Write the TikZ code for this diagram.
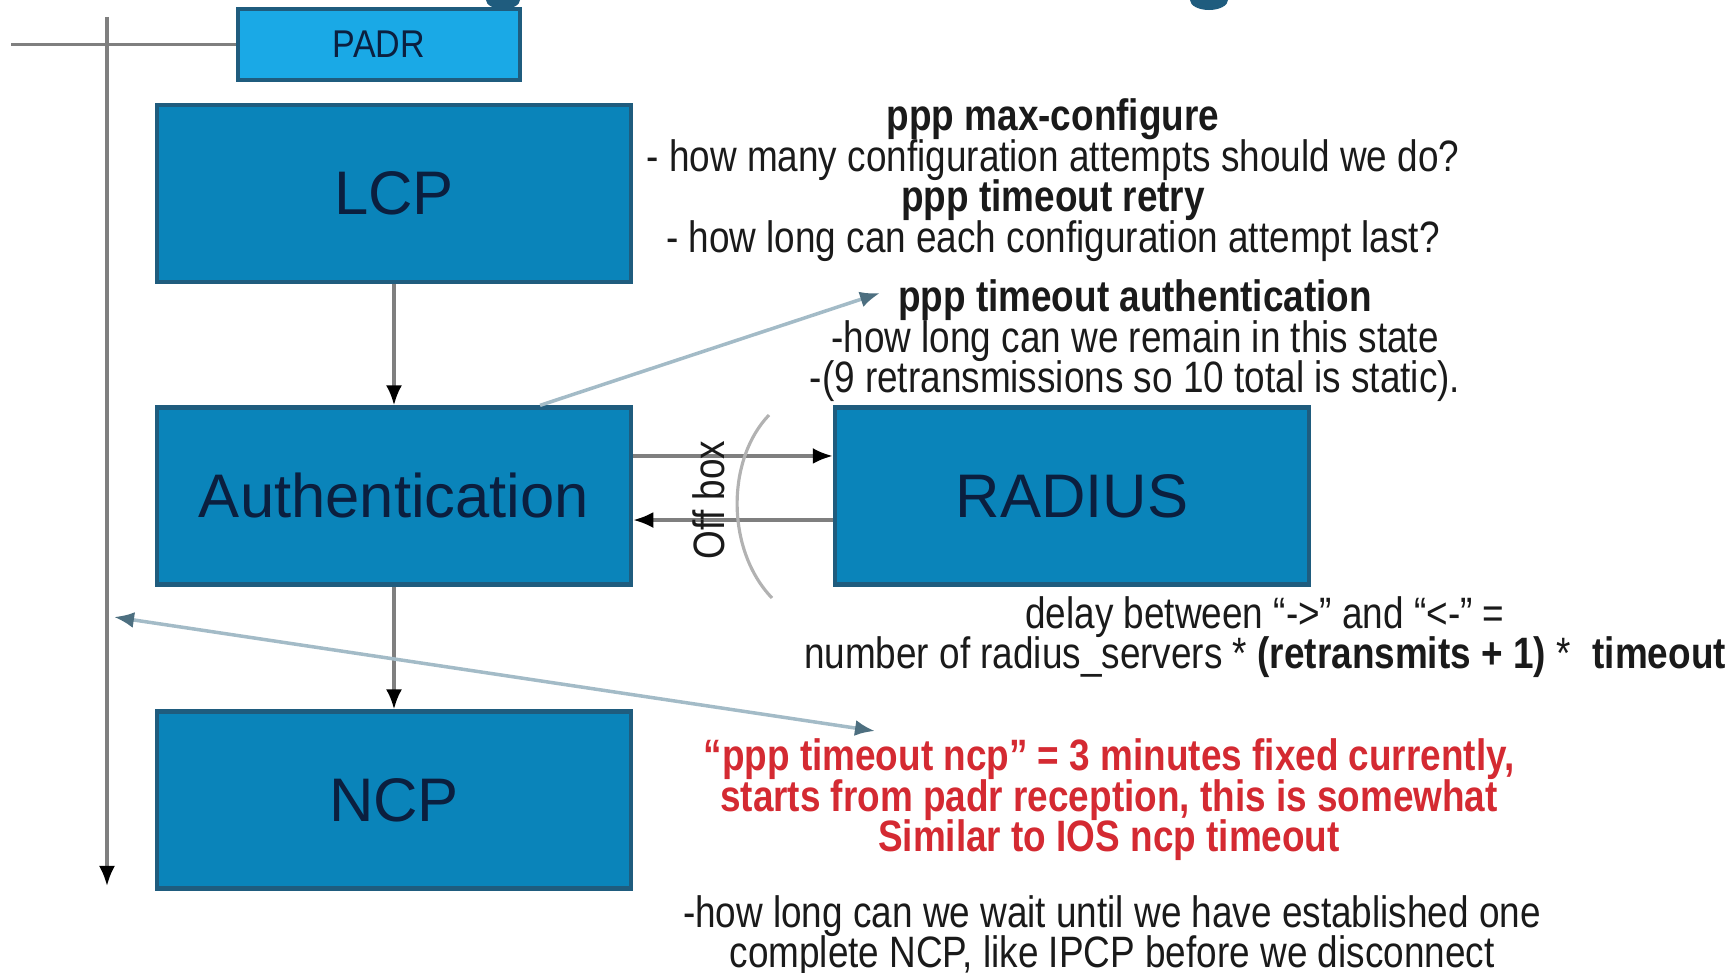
\documentclass[tikz,border=0pt]{standalone}
\usepackage{fontspec}
\setmainfont{Liberation Sans}
\newfontfamily\narrowfont[FakeStretch=0.84]{Liberation Sans}
\newfontfamily\padrfont[FakeStretch=0.88]{Liberation Sans}
\usepackage{xcolor}
\usepackage{tikz}
\usetikzlibrary{arrows.meta}

\definecolor{boxblue}{HTML}{0A84BA}
\definecolor{boxedge}{HTML}{1F5C7E}
\definecolor{padrblue}{HTML}{1AA9E6}
\definecolor{labelblue}{HTML}{0B1F3F}
\definecolor{notegray}{HTML}{1A1A1A}
\definecolor{flowgray}{HTML}{7F7F7F}
\definecolor{hintblue}{HTML}{A3BBC7}
\definecolor{hinthead}{HTML}{4D6F80}
\definecolor{noteRed}{HTML}{D42A32}

\newcommand{\tightlines}{\lineskiplimit=-\maxdimen\lineskip=0pt}

\tikzset{
	stage/.style={draw=boxedge, line width=1.2pt, fill=boxblue, text=labelblue,
		minimum width=4.74cm, minimum height=1.77cm,
		font=\fontsize{17.5pt}{20pt}\selectfont},
	note/.style={align=center, inner sep=0pt, text=notegray,
		font=\narrowfont\fontsize{12.5pt}{11.5pt}\selectfont\tightlines},
	flow/.style={draw=flowgray, line width=0.9pt},
	hint/.style={draw=hintblue, line width=1pt},
	tip/.style={-{Latex[length=2mm,width=1.6mm,black]}},
}

\begin{document}
\begin{tikzpicture}[x=0.01cm,y=-0.01cm]
	\useasboundingbox (0,0) rectangle (1736,973);
	% cut-off marks at the top edge
	\fill[boxedge] (503,0) ellipse (1.7mm and 0.9mm);
	\fill[boxedge] (1209,0) ellipse (1.9mm and 1mm);
	%
	\node[stage, fill=padrblue, minimum width=2.82cm, minimum height=0.71cm,
		font=\padrfont\fontsize{11pt}{13pt}\selectfont] (P) at (379,44.5) {PADR};
	\node[stage] (LCP) at (394,193.5) {LCP};
	\node[stage] (A) at (394,496) {Authentication};
	\node[stage] (NCP) at (394,800) {NCP};
	\node[stage] (R) at (1072,496) {RADIUS};
	%
	\coordinate (T0) at (107,17);
	\coordinate (T1) at (107,886);
	\coordinate (L0) at (11,44.5);
	\draw [flow, tip] (T0) -- (T1);
	\draw [flow] (L0) -- (P.west);
	\draw [flow, tip] (LCP) edge (A);
	\draw [flow, tip] (A) edge (NCP);
	\draw [flow, tip] ([yshift=4mm]A.east) -- ([yshift=4mm]R.west);
	\draw [flow, tip] ([yshift=-2.4mm]R.west) -- ([yshift=-2.4mm]A.east);
	%
	\node[note, rotate=90] (O) at (709,500) {Off box};
	\draw [draw=black!30, line width=0.9pt] (769,415) .. controls (726,460) and (726,550) .. (772,598);
	%
	\node[note] (N1) at (1053,180) {\textbf{ppp max-configure}\\
		- how many configuration attempts should we do?\\
		\textbf{ppp timeout retry}\\
		- how long can each configuration attempt last?};
	\node[note] (N2) at (1135,341) {\textbf{ppp timeout authentication}\\
		-how long can we remain in this state\\
		-(9 retransmissions so 10 total is static).};
	\node[note] (N3) at (1265,637) {delay between “->” and “<-” =\\
		number of radius\_servers * \textbf{(retransmits + 1)} *\enspace\textbf{timeout}};
	\node[note, text=noteRed, font=\narrowfont\bfseries\fontsize{12.5pt}{11.5pt}\selectfont\tightlines]
		(N4) at (1109,800) {“ppp timeout ncp” = 3 minutes fixed currently,\\
		starts from padr reception, this is somewhat\\
		Similar to IOS ncp timeout};
	\node[note] (N5) at (1112,936) {-how long can we wait until we have established one\\
		complete NCP, like IPCP before we disconnect};
	%
	\coordinate (H0) at (880,293);
	\coordinate (H1) at (114,617);
	\coordinate (H2) at (875,731);
	\draw [hint, -{Latex[length=2mm,width=1.6mm,hinthead]}] ([xshift=1.46cm]A.north) -- (H0);
	\draw [hint, {Latex[length=2mm,width=1.6mm,hinthead]}-{Latex[length=2mm,width=1.6mm,hinthead]}] (H1) -- (H2);
\end{tikzpicture}
\end{document}
